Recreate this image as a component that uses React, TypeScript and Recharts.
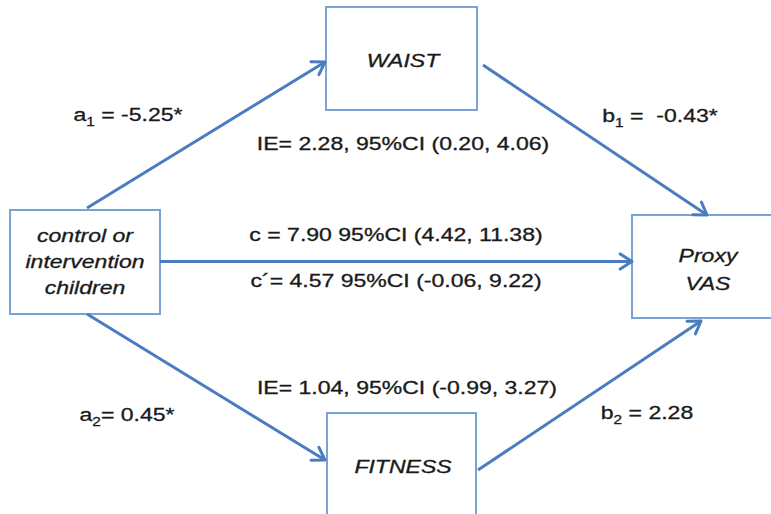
import React from "react";
import {
  ReferenceArea,
  ReferenceLine,
  Scatter,
  ScatterChart,
  XAxis,
  YAxis,
} from "recharts";

// node texts (one entry per box, one string per line)
const nodeNames = [
  ["WAIST"],
  ["control or", "intervention", "children"],
  ["Proxy", "VAS"],
  ["FITNESS"],
];

// path coefficients
const effectSymbols = ["a", "b", "a", "b", "c", "c´", "IE", "IE"];
const effectSubs = ["1", "1", "2", "2", "", "", "", ""];
const effectValues = [
  " = -5.25*",
  " =  -0.43*",
  "= 0.45*",
  " = 2.28",
  " = 7.90 95%CI (4.42, 11.38)",
  "= 4.57 95%CI (-0.06, 9.22)",
  "= 2.28, 95%CI (0.20, 4.06)",
  "= 1.04, 95%CI (-0.99, 3.27)",
];

// layout in diagram units (x1, x2, y1, y2)
const nodeBoxes = [
  [326, 477, 7, 110],
  [10, 160, 210, 314],
  [632, 790, 215, 318],
  [327, 476, 413, 530],
];
const nodeTextAnchors = [
  [403, 67],
  [85, 242],
  [708, 262],
  [403, 473],
];
const nodeLineGap = [0, 26, 28, 0];

const effectAnchors = [
  [128, 121],
  [660, 122],
  [127, 421],
  [647, 419],
  [396, 241],
  [396, 287],
  [403, 150],
  [407, 394],
];

// arrows: from (x, y) to (x, y)
const arrowPaths = [
  [87, 208, 325, 62],
  [483, 65, 707, 215],
  [160, 261.5, 632, 261.5],
  [87, 314, 325, 460],
  [478, 470, 701, 321],
];

const ARROW = "#4a7dbf";
const BOX = "#7ba2d6";
const INK = "#1a1a1a";
const FONT = "'Liberation Sans', Arial, Helvetica, sans-serif";
const STRETCH = 1.28;

const nodeLabelData = nodeNames.map((lines, i) => ({
  x: nodeTextAnchors[i][0],
  y: nodeTextAnchors[i][1],
  lines,
  gap: nodeLineGap[i],
}));

const effectLabelData = effectSymbols.map((sym, i) => ({
  x: effectAnchors[i][0],
  y: effectAnchors[i][1],
  sym,
  sub: effectSubs[i],
  value: effectValues[i],
}));

const Arrow = (props: any) => {
  const { x1, y1, x2, y2 } = props;
  const ang = Math.atan2(y2 - y1, x2 - x1);
  const len = 14;
  const spread = Math.PI / 5.5;
  const ax = x2 - len * Math.cos(ang - spread);
  const ay = y2 - len * Math.sin(ang - spread);
  const bx = x2 - len * Math.cos(ang + spread);
  const by = y2 - len * Math.sin(ang + spread);
  return (
    <g>
      <line x1={x1} y1={y1} x2={x2} y2={y2} stroke={ARROW} strokeWidth={3} />
      <polyline
        points={`${ax},${ay} ${x2},${y2} ${bx},${by}`}
        fill="none"
        stroke={ARROW}
        strokeWidth={3}
        strokeLinecap="round"
        strokeLinejoin="round"
      />
    </g>
  );
};

const NodeLabel = (props: any) => {
  const { cx, cy, payload } = props;
  return (
    <text
      transform={`translate(${cx},${cy}) scale(${STRETCH},1)`}
      textAnchor="middle"
      fontFamily={FONT}
      fontStyle="italic"
      fontSize={18}
      fill={INK}
      stroke={INK}
      strokeWidth={0.3}
    >
      {payload.lines.map((line: string, i: number) => (
        <tspan key={i} x={0} y={i * payload.gap}>
          {line}
        </tspan>
      ))}
    </text>
  );
};

const EffectLabel = (props: any) => {
  const { cx, cy, payload } = props;
  return (
    <text
      transform={`translate(${cx},${cy}) scale(${STRETCH},1)`}
      textAnchor="middle"
      fontFamily={FONT}
      fontSize={18}
      fill={INK}
      stroke={INK}
      strokeWidth={0.3}
      style={{ whiteSpace: "pre" }}
    >
      <tspan>{payload.sym}</tspan>
      {payload.sub ? (
        <>
          <tspan fontSize={12} dy={5}>
            {payload.sub}
          </tspan>
          <tspan dy={-5}>{payload.value}</tspan>
        </>
      ) : (
        <tspan>{payload.value}</tspan>
      )}
    </text>
  );
};

export default function App() {
  return (
    <div style={{ position: "absolute", left: 0, top: 0, background: "#fff" }}>
      <ScatterChart
        width={771}
        height={514}
        margin={{ top: 0, right: 0, bottom: 0, left: 0 }}
      >
        <XAxis type="number" dataKey="x" domain={[0, 771]} hide />
        <YAxis type="number" dataKey="y" domain={[0, 514]} reversed hide />
        {nodeBoxes.map(([x1, x2, y1, y2], i) => (
          <ReferenceArea
            key={`box-${i}`}
            x1={x1}
            x2={x2}
            y1={y1}
            y2={y2}
            fill="#ffffff"
            fillOpacity={1}
            stroke={BOX}
            strokeWidth={2}
            ifOverflow="hidden"
          />
        ))}
        {arrowPaths.map(([x1, y1, x2, y2], i) => (
          <ReferenceLine
            key={`arrow-${i}`}
            segment={[
              { x: x1, y: y1 },
              { x: x2, y: y2 },
            ]}
            shape={Arrow}
            ifOverflow="visible"
          />
        ))}
        <Scatter
          data={nodeLabelData}
          shape={NodeLabel}
          isAnimationActive={false}
        />
        <Scatter
          data={effectLabelData}
          shape={EffectLabel}
          isAnimationActive={false}
        />
      </ScatterChart>
    </div>
  );
}
